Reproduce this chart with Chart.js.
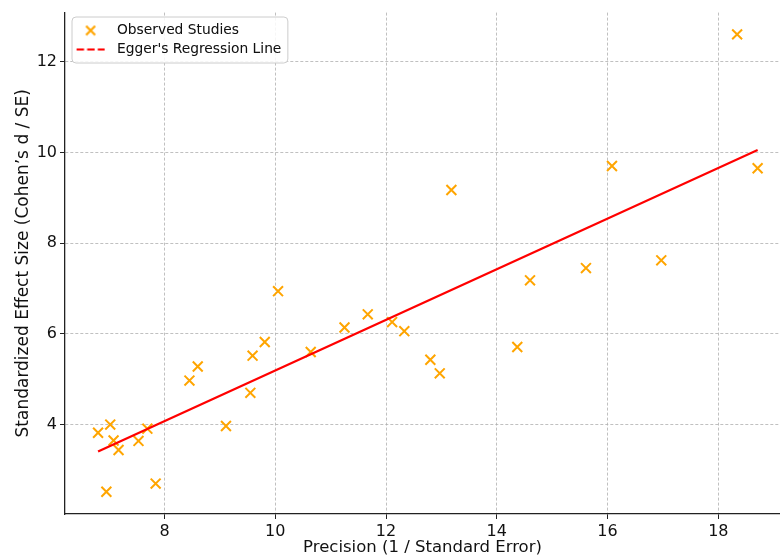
<!DOCTYPE html>
<html>
<head>
<meta charset="utf-8">
<script src="https://cdn.jsdelivr.net/npm/chart.js@4.4.1/dist/chart.umd.min.js"></script>
<style>
  html, body { margin: 0; padding: 0; background: #fff; }
  #wrap { width: 780px; height: 559px; overflow: hidden; }
</style>
</head>
<body>
<div id="wrap"><canvas id="eggerChart" width="780" height="559"></canvas></div>
<script>
// precision (1 / SE) and standardized effect (d / SE) per study
const precision = [6.80, 7.02, 7.08, 7.17, 6.95, 7.53, 7.69, 7.84, 8.45, 8.60,
  9.11, 9.55, 9.59, 9.81, 10.05, 10.64, 11.25, 11.67, 12.11, 12.33,
  12.80, 12.97, 13.18, 14.37, 14.60, 15.61, 16.08, 16.97, 18.34, 18.71];
const effect = [3.82, 4.00, 3.65, 3.44, 2.52, 3.64, 3.91, 2.70, 4.97, 5.28,
  3.97, 4.70, 5.52, 5.82, 6.94, 5.60, 6.14, 6.43, 6.26, 6.06,
  5.43, 5.13, 9.17, 5.71, 7.18, 7.45, 9.70, 7.62, 12.60, 9.65];

// Egger's regression line, end points
const eggerX = [6.80, 18.71];
const eggerY = [3.41, 10.05];

const xTicks = [8, 10, 12, 14, 16, 18];
const yTicks = [4, 6, 8, 10, 12];

const FONT = "DejaVu Sans";
const ORANGE = "#FFA500";
const RED = "#FF0000";

// little canvases used as legend markers
function makeIcon(draw) {
  const c = document.createElement("canvas");
  c.width = 32;
  c.height = 12;
  draw(c.getContext("2d"));
  return c;
}
const crossIcon = makeIcon(g => {
  g.strokeStyle = ORANGE;
  g.lineWidth = 2;
  g.beginPath();
  g.moveTo(12.5, 1.5); g.lineTo(21.5, 10.5);
  g.moveTo(21.5, 1.5); g.lineTo(12.5, 10.5);
  g.stroke();
});
const dashIcon = makeIcon(g => {
  g.strokeStyle = RED;
  g.lineWidth = 2;
  g.setLineDash([7.4, 3.2]);
  g.beginPath();
  g.moveTo(3, 6); g.lineTo(31, 6);
  g.stroke();
});

// legend sits inside the plot with a white rounded frame
const legendFrame = {
  id: "legendFrame",
  afterLayout(chart) {
    const lg = chart.legend;
    lg.left = 63.9;
    lg.top = 18.4;
  },
  afterDatasetsDraw(chart) {
    const lg = chart.legend;
    const hb = lg.legendHitBoxes;
    if (!hb || !hb.length) return;
    const ctx = chart.ctx;
    const x0 = hb[0].left + 2.9;
    const y0 = hb[0].top - 6.6;
    const x1 = Math.max(...hb.map(b => b.left + b.width)) + 6.5;
    const y1 = hb[hb.length - 1].top + hb[hb.length - 1].height + 6.6;
    ctx.save();
    ctx.beginPath();
    ctx.roundRect(x0, y0, x1 - x0, y1 - y0, 4);
    ctx.fillStyle = "rgba(255,255,255,0.85)";
    ctx.fill();
    ctx.strokeStyle = "#cccccc";
    ctx.lineWidth = 1;
    ctx.stroke();
    ctx.restore();
    lg.draw();
  }
};

const ctx = document.getElementById("eggerChart").getContext("2d");
new Chart(ctx, {
  type: "scatter",
  data: {
    datasets: [
      {
        label: "Observed Studies",
        data: precision.map((x, i) => ({ x: x, y: effect[i] })),
        pointStyle: "crossRot",
        pointRadius: 7,
        pointHoverRadius: 7,
        pointBorderColor: ORANGE,
        pointBackgroundColor: ORANGE,
        pointBorderWidth: 2,
        order: 2
      },
      {
        type: "line",
        label: "Egger's Regression Line",
        data: eggerX.map((x, i) => ({ x: x, y: eggerY[i] })),
        borderColor: RED,
        borderWidth: 2.2,
        pointRadius: 0,
        fill: false,
        order: 1
      }
    ]
  },
  options: {
    responsive: false,
    animation: false,
    devicePixelRatio: 1,
    layout: { autoPadding: false, padding: { top: 10, right: 0, left: 0, bottom: 0 } },
    plugins: {
      tooltip: { enabled: false },
      legend: {
        position: "chartArea",
        align: "start",
        labels: {
          usePointStyle: true,
          pointStyleWidth: 41,
          padding: 5.2,
          textAlign: "left",
          color: "#111",
          font: { family: FONT, size: 13.8 },
          generateLabels: chart => {
            const items = Chart.defaults.plugins.legend.labels.generateLabels(chart);
            items.sort((a, b) => a.datasetIndex - b.datasetIndex);
            items[0].pointStyle = crossIcon;
            items[1].pointStyle = dashIcon;
            return items;
          }
        }
      }
    },
    scales: {
      x: {
        type: "linear",
        min: 6.203,
        max: 19.114,
        afterBuildTicks: s => { s.ticks = xTicks.map(v => ({ value: v })); },
        afterFit: s => { s.height = 45; s.paddingLeft = 0; s.paddingRight = 0; },
        grid: { color: "#b0b0b0", lineWidth: 0.8, tickColor: "#222", tickLength: 5, tickWidth: 1 },
        border: { display: true, color: "#222", width: 1.3, dash: [3, 2] },
        ticks: { color: "#111", font: { family: FONT, size: 16 }, padding: 3 },
        title: {
          display: true,
          text: "Precision (1 / Standard Error)",
          color: "#111",
          font: { family: FONT, size: 16.5 },
          padding: { top: 0, bottom: 1 }
        }
      },
      y: {
        type: "linear",
        min: 2.03,
        max: 13.08,
        afterBuildTicks: s => { s.ticks = yTicks.map(v => ({ value: v })); },
        afterFit: s => { s.width = 65; },
        grid: { color: "#b0b0b0", lineWidth: 0.8, tickColor: "#222", tickLength: 5, tickWidth: 1 },
        border: { display: true, color: "#222", width: 1.3, dash: [3, 2] },
        ticks: { color: "#111", font: { family: FONT, size: 16 }, padding: 3 },
        title: {
          display: true,
          text: "Standardized Effect Size (Cohen’s d / SE)",
          color: "#111",
          font: { family: FONT, size: 17 },
          padding: { top: 13, bottom: 0 }
        }
      }
    }
  },
  plugins: [legendFrame]
});
</script>
</body>
</html>
